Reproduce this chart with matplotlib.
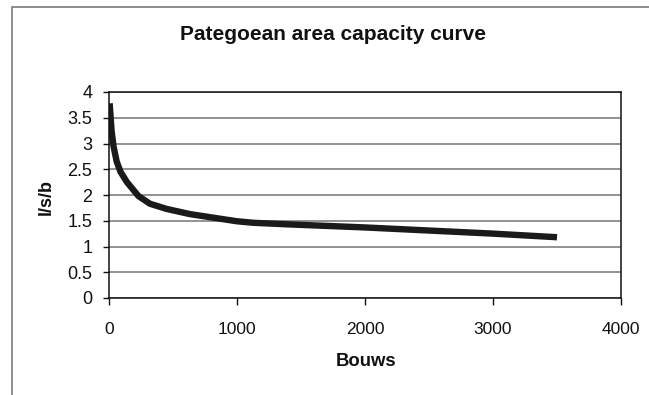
import numpy as np
import matplotlib
matplotlib.use('Agg')
from matplotlib import pyplot as plt
from matplotlib.patches import Rectangle

plt.rcParams['font.family'] = ['Liberation Sans', 'DejaVu Sans']

# values
bouws = [5, 20, 35, 60, 90, 140, 230, 320, 450, 630, 840, 1000, 1130, 1400, 1700, 2000, 2500, 3000, 3500]
lsb = [3.78, 3.25, 2.95, 2.65, 2.45, 2.25, 1.98, 1.83, 1.73, 1.63, 1.55, 1.49, 1.46, 1.43, 1.40, 1.37, 1.31, 1.25, 1.18]

x_ticks = [0, 1000, 2000, 3000, 4000]
y_ticks = [0, 0.5, 1, 1.5, 2, 2.5, 3, 3.5, 4]
y_ticklabels = ['0', '0.5', '1', '1.5', '2', '2.5', '3', '3.5', '4']

W, H = 649, 395
fig = plt.figure(figsize=(W / 100, H / 100), dpi=100)

# outer chart border (cut off at right and bottom in the reference)
fig.patches.append(Rectangle((12 / W, -0.1), 1.2, 1 - 7 / H + 0.1,
                             transform=fig.transFigure, fill=False,
                             edgecolor='#7a7a7a', lw=1.2))

ax = fig.add_axes([109 / W, 1 - 298 / H, (621 - 109) / W, (298 - 92) / H])

ax.set_xlim(0, 4000)
ax.set_ylim(0, 4)
ax.set_yticks(y_ticks)
ax.set_yticklabels(y_ticklabels)
ax.set_xticks(x_ticks)

ax.yaxis.grid(True, color='#8a8a8a', lw=1.3)
ax.set_axisbelow(True)
for s in ax.spines.values():
    s.set_color('#111111')
    s.set_linewidth(1.1)

ax.tick_params(axis='y', direction='out', length=4, width=1, labelsize=13, pad=8, colors='#111111')
ax.tick_params(axis='x', direction='out', length=5, width=1, labelsize=12.5, pad=12, colors='#111111')

ax.plot(bouws, lsb, color='#1a1a1a', lw=4.6, solid_capstyle='butt', solid_joinstyle='round')

fig.text(333 / W, 1 - 35 / H, 'Pategoean area capacity curve', ha='center', va='center',
         fontsize=15, fontweight='bold', color='#111111')
fig.text(366 / W, 1 - 361 / H, 'Bouws', ha='center', va='center',
         fontsize=13.3, fontweight='bold', color='#111111')
fig.text(46 / W, 1 - 197 / H, 'l/s/b', ha='center', va='center', rotation=90,
         fontsize=13, fontweight='bold', color='#111111')

plt.savefig('out.png', dpi=100)
